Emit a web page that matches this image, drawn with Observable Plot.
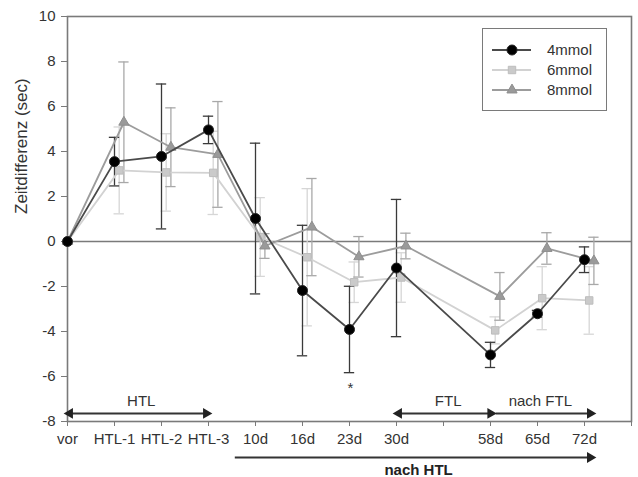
<!DOCTYPE html>
<html>
<head>
<meta charset="utf-8">
<script src="https://cdn.jsdelivr.net/npm/d3@7"></script>
<script src="https://cdn.jsdelivr.net/npm/@observablehq/plot@0.6"></script>
<style>
  body { margin: 0; background: white; font-family: "Liberation Sans", Arial, sans-serif; }
  #wrap { position: relative; width: 638px; height: 477px; }
  #legend { position: absolute; left: 482px; top: 28px; width: 125px; height: 83px; box-sizing: border-box; border: 1.6px solid #7a7a7a; background: white; }
</style>
</head>
<body>
<div id="wrap"><div id="legend"></div></div>
<script>
// ---- data ----
const tickLabels = ["vor","HTL-1","HTL-2","HTL-3","10d","16d","23d","30d","","58d","65d","72d",""];
const positions = [0,1,2,3,4,5,6,7,9,10,11];
const seriesNames = ["4mmol","6mmol","8mmol"];
const mean4 = [0, 3.55, 3.78, 4.96, 1.02, -2.18, -3.91, -1.18, -5.04, -3.21, -0.81];
const err4  = [0, 1.08, 3.22, 0.61, 3.35, 2.90, 1.92, 3.05, 0.56, 0.15, 0.57];
const mean6 = [0, 3.16, 3.07, 3.05, 0.20, -0.70, -1.81, -1.60, -3.95, -2.52, -2.62];
const err6  = [0, 1.93, 1.72, 1.85, 1.75, 3.05, 0.90, 1.10, 0.60, 1.40, 1.50];
const mean8 = [0, 5.30, 4.19, 3.87, -0.20, 0.64, -0.68, -0.20, -2.44, -0.31, -0.86];
const err8  = [0, 2.68, 1.75, 2.35, 0.55, 2.16, 0.90, 0.57, 1.06, 0.70, 1.05];
const yTicks = [-8,-6,-4,-2,0,2,4,6,8,10];
const yLabel = "Zeitdifferenz (sec)";
const spanArrows = [
  {x1: 0.05, x2: 2.95, y: -7.64, both: true},
  {x1: 7.05, x2: 9.0, y: -7.64, both: true},
  {x1: 9.12, x2: 11.12, y: -7.64, both: false},
  {x1: 3.57, x2: 11.12, y: -9.6, both: false}
];
const spanLabels = [
  {t: "HTL", x: 1.57, y: -7.1, bold: false},
  {t: "FTL", x: 8.1, y: -7.1, bold: false},
  {t: "nach FTL", x: 10.06, y: -7.1, bold: false},
  {t: "nach HTL", x: 7.47, y: -10.15, bold: true}
];
const starMark = [{t: "*", x: 6.02, y: -6.5}];

// ---- build ----
const styles = {
  "4mmol": {off: 0,   line: "#4a4a4a", bar: "#3a3a3a", fill: "#000", stroke: "#222", symbol: "circle",   r: 5},
  "6mmol": {off: 0.1, line: "#d2d2d2", bar: "#d6d6d6", fill: "#cacaca", stroke: "#bdbdbd", symbol: "square", r: 4.2},
  "8mmol": {off: 0.2, line: "#9c9c9c", bar: "#a8a8a8", fill: "#9a9a9a", stroke: "#8e8e8e", symbol: "triangle", r: 3.8}
};
const means = {"4mmol": mean4, "6mmol": mean6, "8mmol": mean8};
const errs = {"4mmol": err4, "6mmol": err6, "8mmol": err8};
const rows = {};
for (const s of seriesNames) {
  rows[s] = positions.map((p, i) => ({s, x: p === 0 ? 0 : p + styles[s].off, v: means[s][i], e: errs[s][i]}));
}
const capHalf = 0.11;
const order = ["6mmol","8mmol","4mmol"];
const marks = [
  Plot.frame({stroke: "#7a7a7a", strokeWidth: 1.6}),
  Plot.ruleY([0], {stroke: "#7a7a7a", strokeWidth: 1.6}),
  Plot.axisY({ticks: yTicks, tickFormat: d => String(d), tickSize: 6, tickPadding: 6, label: null, stroke: "#7a7a7a", fill: "#333", fontSize: 15}),
  Plot.axisX({ticks: d3.range(13), tickFormat: i => tickLabels[i] ?? "", tickSize: 5, tickPadding: 7, label: null, stroke: "#7a7a7a", fill: "#333", fontSize: 15}),
  Plot.text([yLabel], {frameAnchor: "left", rotate: -90, dx: -46, dy: -5, fontSize: 17, fill: "#333"})
];
for (const s of order) {
  const st = styles[s];
  const eb = rows[s].filter(d => d.e > 0);
  marks.push(Plot.ruleX(eb, {x: "x", y1: d => d.v - d.e, y2: d => d.v + d.e, stroke: st.bar, strokeWidth: 1.3}));
  const caps = eb.flatMap(d => [{x: d.x, y: d.v - d.e}, {x: d.x, y: d.v + d.e}]);
  marks.push(Plot.ruleY(caps, {y: "y", x1: d => d.x - capHalf, x2: d => d.x + capHalf, stroke: st.bar, strokeWidth: 1.3}));
}
for (const s of order) {
  const st = styles[s];
  marks.push(Plot.line(rows[s], {x: "x", y: "v", stroke: st.line, strokeWidth: 1.8}));
  marks.push(Plot.dot(rows[s], {x: "x", y: "v", symbol: st.symbol, r: st.r, fill: st.fill, stroke: st.stroke, strokeWidth: 1}));
}
// span arrows
marks.push(Plot.ruleY(spanArrows, {y: "y", x1: "x1", x2: "x2", stroke: "#333", strokeWidth: 2}));
marks.push(Plot.dot(spanArrows, {x: "x2", y: "y", symbol: "triangle", r: 4, rotate: 90, fill: "#222", stroke: "none"}));
marks.push(Plot.dot(spanArrows.filter(d => d.both), {x: "x1", y: "y", symbol: "triangle", r: 4, rotate: -90, fill: "#222", stroke: "none"}));
marks.push(Plot.text(spanLabels.filter(d => !d.bold), {x: "x", y: "y", text: "t", fontSize: 15, fill: "#333"}));
marks.push(Plot.text(spanLabels.filter(d => d.bold), {x: "x", y: "y", text: "t", fontSize: 15, fontWeight: "bold", fill: "#222"}));
marks.push(Plot.text(starMark, {x: "x", y: "y", text: "t", fontSize: 15, fill: "#333"}));

const chart = Plot.plot({
  width: 638, height: 477,
  marginLeft: 67, marginRight: 7, marginTop: 16, marginBottom: 56,
  x: {domain: [0, 12]},
  y: {domain: [-8, 10]},
  style: {fontFamily: "'Liberation Sans', Arial, sans-serif", fontSize: "15px", background: "white", overflow: "visible"},
  marks
});
document.getElementById("wrap").prepend(chart);

// legend
const lg = d3.select("#legend").append("svg").attr("width", 122).attr("height", 80);
const sym = {circle: d3.symbolCircle, square: d3.symbolSquare, triangle: d3.symbolTriangle};
seriesNames.forEach((s, i) => {
  const st = styles[s];
  const y = 21 + i * 20;
  lg.append("line").attr("x1", 9).attr("x2", 48).attr("y1", y).attr("y2", y).attr("stroke", st.line).attr("stroke-width", 1.8);
  lg.append("path").attr("d", d3.symbol(sym[st.symbol], Math.PI * st.r * st.r)()).attr("transform", `translate(29,${y})`).attr("fill", st.fill).attr("stroke", st.stroke);
  lg.append("text").attr("x", 64).attr("y", y).attr("dy", "0.35em").attr("font-size", 15).attr("fill", "#333").text(s);
});
</script>
</body>
</html>
